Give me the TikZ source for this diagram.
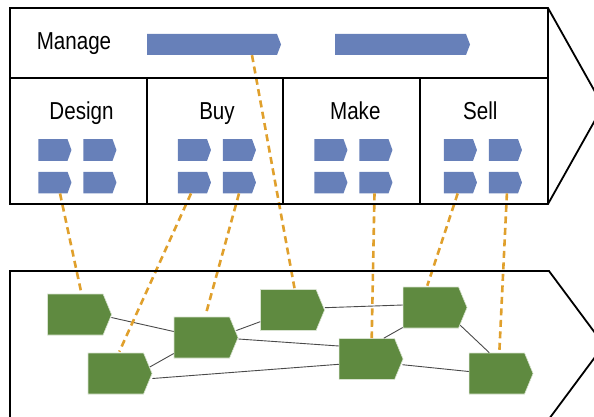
\documentclass[tikz,border=0pt]{standalone}
\usepackage{fontspec}
\newfontfamily\labelfont{Liberation Sans}[FakeStretch=0.84]
\usetikzlibrary{shapes.symbols,calc}

\definecolor{stepblue}{HTML}{6780B9}
\definecolor{unitgreen}{HTML}{5F8A40}
\definecolor{linkorange}{HTML}{E0A02C}
\definecolor{linkgrey}{HTML}{4A4A4A}

\tikzset{
  frame/.style={draw=black, line width=1.8pt, line join=miter},
  divider/.style={draw=black, line width=1.8pt},
  area/.style={font=\labelfont\fontsize{24.5}{29}\selectfont, inner sep=0pt, anchor=base},
  task/.style={shape=signal, signal to=east, signal pointer angle=140,
    fill=stepblue, draw=none, inner sep=0pt, minimum width=33pt, minimum height=21.5pt},
  bar/.style={shape=signal, signal to=east, signal pointer angle=138,
    fill=stepblue, draw=none, inner sep=0pt, minimum height=21pt},
  unit/.style={shape=signal, signal to=east, signal pointer angle=135,
    fill=unitgreen, draw=white!75!unitgreen, line width=0.6pt, inner sep=0pt,
    minimum width=64pt, minimum height=41pt},
  link/.style={draw=linkgrey, line width=0.9pt},
  trace/.style={draw=linkorange, line width=2.6pt, dash pattern=on 7pt off 4.5pt}
}

\begin{document}
\begin{tikzpicture}[x=1pt, y=-1pt]
  \useasboundingbox (0,0) rectangle (594,417);
  \clip (0,0) rectangle (594,417);

  % value chain: management bars and function blocks
  \node[bar, minimum width=134pt] (bar1) at (212,44.5) {};
  \node[bar, minimum width=135pt] (bar2) at (400.5,44.5) {};

  \node[area] (manage) at (74,50) {Manage};
  \node[area] (design) at (81.5,119.3) {Design};
  \node[area] (buy)    at (217,119.3) {Buy};
  \node[area] (make)   at (355.3,119.3) {Make};
  \node[area] (sell)   at (480.3,119.3) {Sell};

  \foreach \nm/\cx in {dsg/53, buy/192.5, mk/329, sl/458.5}{
    \node[task] (\nm11) at (\cx,150) {};
    \node[task] (\nm12) at ({\cx+45},150) {};
    \node[task] (\nm21) at (\cx,182.5) {};
    \node[task] (\nm22) at ({\cx+45},182.5) {};
  }

  % organisation units
  \node[unit] (A) at (75.3,314.5) {};
  \node[unit] (B) at (115.8,373.5) {};
  \node[unit] (C) at (201.8,337.5) {};
  \node[unit] (D) at (288.3,310) {};
  \node[unit] (E) at (366.8,359) {};
  \node[unit] (F) at (430.8,307.5) {};
  \node[unit] (G) at (496.8,373.5) {};

  % links between units
  \draw[link] ($(A.east)+(-0.5,3)$) -- ($(C.west)+(0,-6)$);
  \draw[link] ($(B.center)+(34,-6.5)$) -- ($(C.west)+(0,16)$);
  \draw[link] ($(B.east)+(0,5)$) -- ($(E.west)+(0,5.3)$);
  \draw[link] ($(C.east)+(-2,-7)$) -- ($(D.west)+(0,11.7)$);
  \draw[link] ($(C.east)+(0,1.5)$) -- ($(E.west)+(0,-13)$);
  \draw[link] ($(D.east)+(0,-2.3)$) -- ($(F.west)+(0,-2.5)$);
  \draw[link] ($(E.north)+(17,0)$) -- ($(F.west)+(0,20)$);
  \draw[link] ($(E.east)+(-1,5.7)$) -- ($(G.west)+(0,-2)$);
  \draw[link] ($(F.center)+(29.5,17.8)$) -- ($(G.north)+(-7.5,0)$);

  % traces from processes to units
  \draw[trace] ($(bar1.south)+(40,0)$) -- ($(D.north)+(6.2,-1)$);
  \draw[trace] ($(dsg21.south)+(7,0)$) -- ($(A.north)+(6.2,0)$);
  \draw[trace] ($(buy21.south)+(-1.5,0)$) -- ($(B.north)+(3.5,-1)$);
  \draw[trace] ($(buy22.south)+(1.5,0)$) -- ($(C.north)+(3.9,-2)$);
  \draw[trace] ($(mk22.south)+(0.5,0)$) -- ($(E.north)+(4.9,0)$);
  \draw[trace] ($(sl21.south)+(-0.8,0)$) -- ($(F.north)+(-3.5,-1)$);
  \draw[trace] ($(sl22.south)+(3.4,0)$) -- ($(G.north)+(2.5,0)$);

  % upper chevron
  \draw[frame] (10,8) -- (548,8) -- (603,106) -- (548,204) -- (10,204) -- cycle;
  \draw[divider] (10,78) -- (548,78);
  \draw[divider] (548,8) -- (548,204);
  \draw[divider] (147,78) -- (147,204);
  \draw[divider] (283,78) -- (283,204);
  \draw[divider] (420,78) -- (420,204);

  % lower chevron
  \draw[frame] (10,419) -- (10,271) -- (549,271) -- (604,345) -- (549,419);
\end{tikzpicture}
\end{document}
